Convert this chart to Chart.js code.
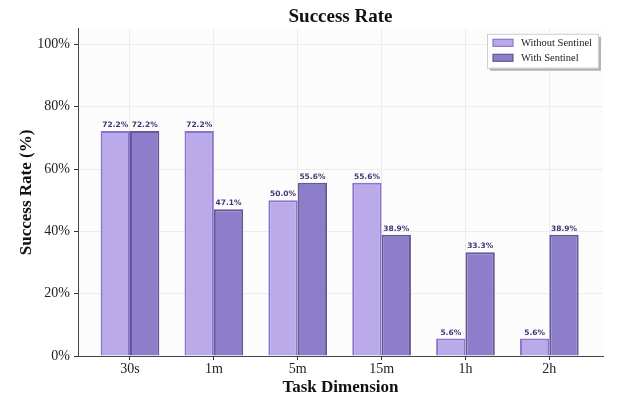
<!DOCTYPE html>
<html>
<head>
<meta charset="utf-8">
<script src="https://cdn.jsdelivr.net/npm/chart.js@4"></script>
<style>
  html, body { margin: 0; padding: 0; background: #fff; }
  #wrap { width: 619px; height: 399px; }
</style>
</head>
<body>
<div id="wrap"><canvas id="myChart" width="619" height="399"></canvas></div>
<script>
const categories = ['30s', '1m', '5m', '15m', '1h', '2h'];
const withoutSentinel = [72.2, 72.2, 50.0, 55.6, 5.6, 5.6];
const withSentinel = [72.2, 47.1, 55.6, 38.9, 33.3, 38.9];
const yTicks = [0, 20, 40, 60, 80, 100];

const serif = '"Liberation Serif", "Times New Roman", serif';

const plotBg = {
    id: 'plotBg',
    beforeDraw(chart) {
        const { ctx, chartArea: a } = chart;
        ctx.save();
        ctx.fillStyle = '#fcfcfd';
        ctx.fillRect(a.left, a.top, a.right - a.left, a.bottom - a.top);
        ctx.restore();
    }
};

// value labels above each bar
const barLabels = {
    id: 'barLabels',
    afterDatasetsDraw(chart) {
        const ctx = chart.ctx;
        ctx.save();
        ctx.font = 'bold 7.5px "DejaVu Sans", sans-serif';
        ctx.fillStyle = '#3f3670';
        ctx.textAlign = 'center';
        ctx.textBaseline = 'bottom';
        chart.data.datasets.forEach((ds, i) => {
            chart.getDatasetMeta(i).data.forEach((bar, j) => {
                ctx.fillText(ds.data[j].y.toFixed(1) + '%', bar.x, bar.y - 2);
            });
        });
        ctx.restore();
    }
};

// matplotlib-like legend box in the upper right
const boxLegend = {
    id: 'boxLegend',
    afterDraw(chart) {
        const { ctx, chartArea: a } = chart;
        const w = 111, h = 34;
        const x = a.right - w - 5, y = a.top + 5;
        ctx.save();
        ctx.fillStyle = '#b5b5b5';
        ctx.fillRect(x + 3, y + 3, w, h);
        ctx.fillStyle = '#fff';
        ctx.fillRect(x, y, w, h);
        ctx.strokeStyle = '#cfcfcf';
        ctx.lineWidth = 1;
        ctx.strokeRect(x + 0.5, y + 0.5, w, h);
        ctx.font = '10.5px ' + serif;
        ctx.textBaseline = 'middle';
        chart.data.datasets.forEach((ds, i) => {
            const ry = y + 9 + i * 15;
            ctx.fillStyle = ds.backgroundColor;
            ctx.fillRect(x + 6, ry - 3.5, 20, 7);
            ctx.strokeStyle = ds.borderColor;
            ctx.lineWidth = 1.2;
            ctx.strokeRect(x + 6, ry - 3.5, 20, 7);
            ctx.fillStyle = '#222';
            ctx.fillText(ds.label, x + 34, ry);
        });
        ctx.restore();
    }
};

const ctx = document.getElementById('myChart');
const myChart = new Chart(ctx, { // eslint-disable-line
    type: 'bar',
    data: {
        datasets: [{
            label: 'Without Sentinel',
            data: withoutSentinel.map((v, i) => ({ x: i, y: v })),
            backgroundColor: 'rgba(186, 170, 233, 1)',
            borderColor: 'rgba(138, 116, 210, 1)',
            borderWidth: 2
        },
        {
            label: 'With Sentinel',
            data: withSentinel.map((v, i) => ({ x: i, y: v })),
            backgroundColor: 'rgba(141, 126, 203, 1)',
            borderColor: 'rgba(104, 88, 146, 1)',
            borderWidth: 2
        }]
    },
    options: {
        responsive: false,
        animation: false,
        categoryPercentage: 0.7,
        barPercentage: 1.0,
        layout: { padding: { left: 0, right: 16, top: 0, bottom: 0 } },
        plugins: {
            legend: { display: false },
            tooltip: { enabled: false },
            title: {
                display: true,
                text: 'Success Rate',
                fullSize: false,
                color: '#111',
                font: { family: serif, size: 19, weight: 'bold' },
                padding: { top: 6, bottom: 0 }
            }
        },
        scales: {
            x: {
                type: 'linear',
                min: -0.62,
                max: 5.64,
                offset: false,
                afterBuildTicks: scale => {
                    scale.ticks = categories.map((c, i) => ({ value: i }));
                },
                afterFit: scale => { scale.height = 43; },
                ticks: {
                    callback: v => categories[v],
                    color: '#222',
                    font: { family: serif, size: 14 },
                    padding: 1,
                    maxRotation: 0
                },
                grid: { offset: false, color: '#ececec', tickColor: '#333', tickLength: 4 },
                border: { color: '#444', width: 1 },
                title: {
                    display: true,
                    text: 'Task Dimension',
                    color: '#111',
                    font: { family: serif, size: 17, weight: 'bold' },
                    padding: { top: 0, bottom: 1 }
                }
            },
            y: {
                min: 0,
                max: 105,
                afterBuildTicks: scale => {
                    scale.ticks = yTicks.map(v => ({ value: v }));
                },
                afterFit: scale => { scale.width = 78; },
                ticks: {
                    callback: v => v + '%',
                    color: '#222',
                    font: { family: serif, size: 14 },
                    padding: 4
                },
                grid: { color: '#ececec', tickColor: '#333', tickLength: 4 },
                border: { color: '#444', width: 1 },
                title: {
                    display: true,
                    text: 'Success Rate (%)',
                    color: '#111',
                    font: { family: serif, size: 17, weight: 'bold' },
                    padding: { top: 16, bottom: 0 }
                }
            }
        }
    },
    plugins: [plotBg, barLabels, boxLegend]
});
</script>
</body>
</html>
